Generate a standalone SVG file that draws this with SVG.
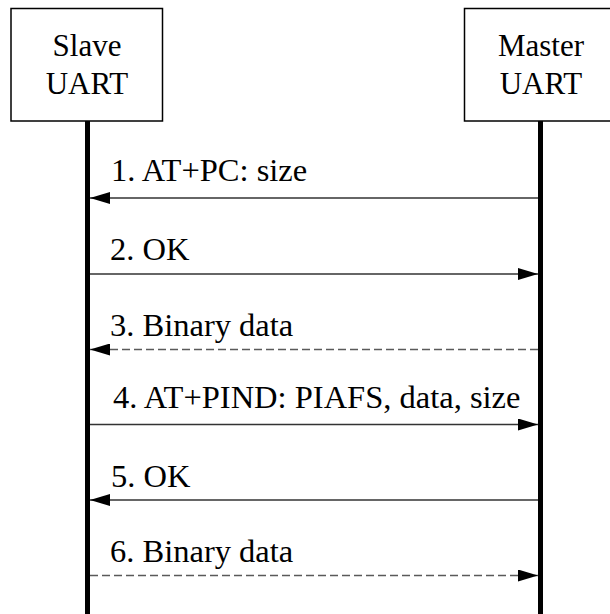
<svg xmlns="http://www.w3.org/2000/svg" width="610" height="614" viewBox="0 0 610 614">
  <defs>
    <marker id="head" viewBox="0 0 20 12" refX="20" refY="6" markerWidth="20" markerHeight="12" markerUnits="userSpaceOnUse" orient="auto">
      <path d="M0,0 L20,6 L0,12 Z" fill="#000"/>
    </marker>
    <style>
      .box { fill: #fff; stroke: #000; stroke-width: 1.5; }
      .life { stroke: #000; stroke-width: 5; }
      .msg { stroke: #333; stroke-width: 1.4; fill: none; marker-end: url(#head); }
      .async { stroke-dasharray: 8 4; stroke: #5a5a5a; }
      text { font-family: 'Liberation Serif', 'Times New Roman', serif; font-size: 32.5px; fill: #000; }
      .name { text-anchor: middle; font-size: 31px; }
    </style>
  </defs>
  <rect width="610" height="614" fill="#fff"/>

  <!-- participants -->
  <g id="slave">
    <rect class="box" x="11" y="8.5" width="151.5" height="112.5"/>
    <text class="name" x="87" y="56">Slave</text>
    <text class="name" x="87" y="94">UART</text>
  </g>
  <g id="master">
    <rect class="box" x="464.5" y="8.5" width="152" height="112.5"/>
    <text class="name" x="541" y="56">Master</text>
    <text class="name" x="541" y="94">UART</text>
  </g>

  <!-- lifelines and messages -->
  <g id="connectors">
    <line class="life" x1="87.5" y1="121" x2="87.5" y2="614"/>
    <line class="life" x1="540.5" y1="121" x2="540.5" y2="614"/>

    <line class="msg" x1="538" y1="198" x2="90" y2="198"/>
    <line class="msg" x1="90" y1="274" x2="538" y2="274"/>
    <line class="msg async" x1="538" y1="349.5" x2="90" y2="349.5"/>
    <line class="msg" x1="90" y1="424.5" x2="538" y2="424.5"/>
    <line class="msg" x1="538" y1="500" x2="90" y2="500"/>
    <line class="msg async" x1="90" y1="575.5" x2="538" y2="575.5"/>
  </g>

  <!-- message labels -->
  <g id="labels">
    <text x="111" y="181">1. AT+PC: size</text>
    <text x="110" y="260">2. OK</text>
    <text x="110" y="336">3. Binary data</text>
    <text x="113" y="408">4. AT+PIND: PIAFS, data, size</text>
    <text x="111" y="487">5. OK</text>
    <text x="110" y="562">6. Binary data</text>
  </g>
</svg>
